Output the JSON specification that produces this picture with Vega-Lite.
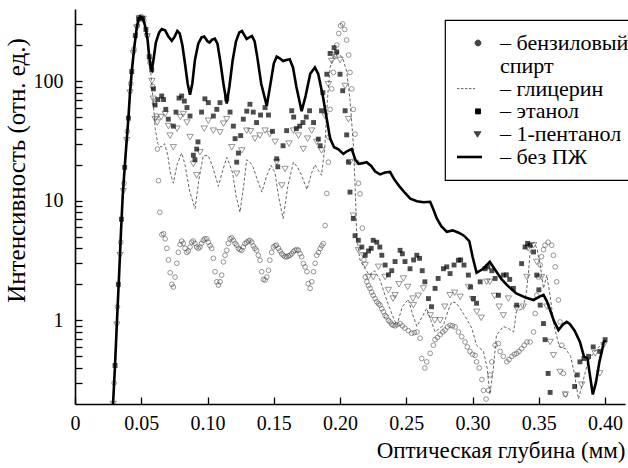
{
 "$schema": "https://vega.github.io/schema/vega-lite/v6.json",
 "width": 550,
 "height": 395,
 "autosize": {"type": "none"},
 "padding": {"left": 75, "top": 9, "right": 3, "bottom": 64},
 "background": "white",
 "config": {"view": {"stroke": null}, "font": "'Liberation Serif', 'Times New Roman', 'DejaVu Serif', serif"},
 "datasets": {
  "bez": [
   {"x":0.0287,"y":0.2},{"x":0.0302,"y":0.42},{"x":0.0317,"y":1.0},{"x":0.0332,"y":2.3},{"x":0.0347,"y":5.5},{"x":0.036,"y":11},{"x":0.0375,"y":19},{"x":0.039,"y":32},{"x":0.0403,"y":49},{"x":0.0415,"y":80},{"x":0.0428,"y":120},{"x":0.0447,"y":190},{"x":0.0466,"y":280},{"x":0.048,"y":330},{"x":0.049,"y":345},{"x":0.0505,"y":340},{"x":0.052,"y":315},{"x":0.0535,"y":270},{"x":0.0548,"y":220},{"x":0.056,"y":160},{"x":0.0572,"y":128},{"x":0.058,"y":124},{"x":0.0592,"y":150},{"x":0.061,"y":210},{"x":0.0635,"y":255},{"x":0.0655,"y":272},{"x":0.068,"y":265},{"x":0.0705,"y":235},{"x":0.073,"y":217},{"x":0.0752,"y":235},{"x":0.0772,"y":262},{"x":0.079,"y":250},{"x":0.081,"y":200},{"x":0.083,"y":140},{"x":0.085,"y":95},{"x":0.0868,"y":77},{"x":0.0885,"y":95},{"x":0.0905,"y":150},{"x":0.093,"y":205},{"x":0.0955,"y":232},{"x":0.0975,"y":236},{"x":0.1,"y":215},{"x":0.1015,"y":210},{"x":0.1035,"y":222},{"x":0.1055,"y":226},{"x":0.1075,"y":205},{"x":0.1095,"y":150},{"x":0.112,"y":95},{"x":0.1145,"y":65},{"x":0.1165,"y":90},{"x":0.119,"y":150},{"x":0.1215,"y":215},{"x":0.124,"y":255},{"x":0.126,"y":262},{"x":0.128,"y":240},{"x":0.1295,"y":225},{"x":0.1315,"y":232},{"x":0.1335,"y":238},{"x":0.1355,"y":215},{"x":0.1375,"y":160},{"x":0.1405,"y":95},{"x":0.1447,"y":62},{"x":0.1475,"y":95},{"x":0.15,"y":140},{"x":0.1522,"y":160},{"x":0.1545,"y":155},{"x":0.157,"y":147},{"x":0.1595,"y":150},{"x":0.162,"y":152},{"x":0.1645,"y":130},{"x":0.167,"y":90},{"x":0.171,"y":56},{"x":0.174,"y":75},{"x":0.1775,"y":115},{"x":0.181,"y":130},{"x":0.1835,"y":115},{"x":0.187,"y":75},{"x":0.19,"y":48},{"x":0.1925,"y":33},{"x":0.1955,"y":28},{"x":0.1985,"y":27},{"x":0.2025,"y":24.6},{"x":0.2055,"y":26},{"x":0.2088,"y":27},{"x":0.2115,"y":22},{"x":0.214,"y":20.3},{"x":0.217,"y":20.6},{"x":0.22,"y":21},{"x":0.2235,"y":19.5},{"x":0.2265,"y":17.5},{"x":0.2302,"y":16.6},{"x":0.234,"y":17.2},{"x":0.2377,"y":17.4},{"x":0.241,"y":15},{"x":0.245,"y":13.1},{"x":0.249,"y":11.6},{"x":0.253,"y":10.4},{"x":0.258,"y":9.9},{"x":0.263,"y":9.7},{"x":0.268,"y":9.8},{"x":0.2705,"y":8.4},{"x":0.273,"y":7.1},{"x":0.2765,"y":6.1},{"x":0.2805,"y":5.5},{"x":0.285,"y":5.65},{"x":0.2895,"y":5.4},{"x":0.2935,"y":5.1},{"x":0.2975,"y":4.6},{"x":0.3,"y":3.4},{"x":0.303,"y":2.5},{"x":0.308,"y":2.7},{"x":0.313,"y":3.08},{"x":0.318,"y":2.55},{"x":0.322,"y":2.2},{"x":0.326,"y":1.97},{"x":0.333,"y":1.68},{"x":0.34,"y":1.55},{"x":0.346,"y":1.48},{"x":0.3505,"y":1.58},{"x":0.3535,"y":1.63},{"x":0.356,"y":1.45},{"x":0.3585,"y":1.22},{"x":0.3615,"y":0.98},{"x":0.3648,"y":0.83},{"x":0.368,"y":0.92},{"x":0.371,"y":0.97},{"x":0.3735,"y":0.93},{"x":0.377,"y":0.82},{"x":0.381,"y":0.66},{"x":0.384,"y":0.5},{"x":0.3867,"y":0.48},{"x":0.3885,"y":0.35},{"x":0.3907,"y":0.24},{"x":0.393,"y":0.3},{"x":0.3957,"y":0.45},{"x":0.3975,"y":0.55},{"x":0.399,"y":0.66},{"x":0.4005,"y":0.68}
  ],
  "glic": [
   {"x":0.0287,"y":0.2},{"x":0.033,"y":2.3},{"x":0.037,"y":15},{"x":0.041,"y":60},{"x":0.045,"y":200},{"x":0.049,"y":340},{"x":0.053,"y":300},{"x":0.0566,"y":140},{"x":0.0585,"y":80},{"x":0.0605,"y":40},{"x":0.0625,"y":30},{"x":0.065,"y":28},{"x":0.0675,"y":30},{"x":0.07,"y":24},{"x":0.072,"y":17},{"x":0.0742,"y":14},{"x":0.077,"y":20},{"x":0.0805,"y":25},{"x":0.083,"y":20},{"x":0.0865,"y":12},{"x":0.0906,"y":8.6},{"x":0.0935,"y":15},{"x":0.0968,"y":23.8},{"x":0.1006,"y":23.8},{"x":0.104,"y":19},{"x":0.1082,"y":13.2},{"x":0.1115,"y":18},{"x":0.1145,"y":23},{"x":0.1157,"y":21.5},{"x":0.119,"y":17},{"x":0.1215,"y":11},{"x":0.1245,"y":8.0},{"x":0.1275,"y":14},{"x":0.1296,"y":22},{"x":0.132,"y":21},{"x":0.1345,"y":19},{"x":0.1375,"y":15},{"x":0.141,"y":11.8},{"x":0.1445,"y":16},{"x":0.148,"y":19.7},{"x":0.151,"y":17},{"x":0.1535,"y":11},{"x":0.157,"y":7.1},{"x":0.1605,"y":13},{"x":0.1648,"y":21},{"x":0.168,"y":19},{"x":0.171,"y":16.3},{"x":0.175,"y":12.4},{"x":0.1785,"y":17},{"x":0.181,"y":20},{"x":0.1835,"y":18},{"x":0.186,"y":16.3},{"x":0.1885,"y":28},{"x":0.1905,"y":70},{"x":0.1925,"y":130},{"x":0.195,"y":160},{"x":0.198,"y":170},{"x":0.2,"y":165},{"x":0.2025,"y":150},{"x":0.205,"y":120},{"x":0.2075,"y":70},{"x":0.21,"y":30},{"x":0.2115,"y":12},{"x":0.2126,"y":5},{"x":0.215,"y":3.2},{"x":0.218,"y":2.8},{"x":0.222,"y":2.4},{"x":0.226,"y":2.6},{"x":0.23,"y":2.2},{"x":0.235,"y":1.5},{"x":0.2395,"y":1.1},{"x":0.2428,"y":0.91},{"x":0.247,"y":1.3},{"x":0.2515,"y":1.5},{"x":0.255,"y":1.1},{"x":0.258,"y":0.89},{"x":0.2615,"y":1.05},{"x":0.2654,"y":1.26},{"x":0.2685,"y":1.0},{"x":0.2717,"y":0.8},{"x":0.278,"y":0.91},{"x":0.2815,"y":1.2},{"x":0.2843,"y":1.43},{"x":0.2875,"y":1.4},{"x":0.2906,"y":1.26},{"x":0.295,"y":1.05},{"x":0.2994,"y":0.86},{"x":0.303,"y":0.62},{"x":0.3082,"y":0.55},{"x":0.311,"y":0.4},{"x":0.313,"y":0.24},{"x":0.3157,"y":0.4},{"x":0.318,"y":0.75},{"x":0.3232,"y":0.89},{"x":0.3275,"y":0.85},{"x":0.331,"y":0.8},{"x":0.333,"y":1.18},{"x":0.338,"y":1.26},{"x":0.3405,"y":1.7},{"x":0.342,"y":2.39},{"x":0.3434,"y":3.73},{"x":0.346,"y":4.5},{"x":0.3485,"y":4.0},{"x":0.351,"y":2.9},{"x":0.3535,"y":1.85},{"x":0.356,"y":2.39},{"x":0.3585,"y":1.6},{"x":0.3615,"y":0.9},{"x":0.3655,"y":0.6},{"x":0.37,"y":0.58},{"x":0.374,"y":0.5},{"x":0.377,"y":0.35},{"x":0.3799,"y":0.22},{"x":0.383,"y":0.3},{"x":0.387,"y":0.45},{"x":0.3905,"y":0.52},{"x":0.394,"y":0.58},{"x":0.399,"y":0.66}
  ],
  "benz": [
   {"x":0.0295,"y":0.3},{"x":0.032,"y":1.3},{"x":0.0345,"y":4.5},{"x":0.037,"y":14},{"x":0.0395,"y":38},{"x":0.042,"y":95},{"x":0.0445,"y":185},{"x":0.047,"y":290},{"x":0.0485,"y":340},{"x":0.05,"y":345},{"x":0.052,"y":320},{"x":0.0545,"y":240},{"x":0.0566,"y":150},{"x":0.0585,"y":90},{"x":0.06,"y":65},{"x":0.0616,"y":51},{"x":0.0622,"y":27},{"x":0.063,"y":14.7},{"x":0.064,"y":8.0},{"x":0.0655,"y":5.2},{"x":0.0668,"y":5.3},{"x":0.068,"y":4.8},{"x":0.0693,"y":4.0},{"x":0.0705,"y":3.2},{"x":0.0718,"y":2.5},{"x":0.073,"y":2.0},{"x":0.0742,"y":1.9},{"x":0.0755,"y":2.3},{"x":0.0768,"y":3.0},{"x":0.078,"y":3.7},{"x":0.0793,"y":4.3},{"x":0.0805,"y":4.6},{"x":0.0818,"y":4.4},{"x":0.083,"y":4.0},{"x":0.0843,"y":3.7},{"x":0.0855,"y":3.8},{"x":0.0868,"y":4.1},{"x":0.088,"y":4.5},{"x":0.0893,"y":4.6},{"x":0.0905,"y":4.4},{"x":0.0918,"y":4.1},{"x":0.093,"y":4.0},{"x":0.0943,"y":4.1},{"x":0.0955,"y":4.4},{"x":0.0968,"y":4.67},{"x":0.098,"y":4.8},{"x":0.0994,"y":4.8},{"x":0.1006,"y":4.5},{"x":0.1019,"y":4.2},{"x":0.1031,"y":4.0},{"x":0.1044,"y":3.3},{"x":0.1057,"y":2.55},{"x":0.107,"y":2.1},{"x":0.1082,"y":1.97},{"x":0.1095,"y":2.1},{"x":0.1107,"y":2.39},{"x":0.112,"y":3.08},{"x":0.1132,"y":3.5},{"x":0.1145,"y":3.85},{"x":0.1157,"y":4.4},{"x":0.117,"y":4.8},{"x":0.1183,"y":4.9},{"x":0.1195,"y":4.67},{"x":0.1208,"y":4.4},{"x":0.122,"y":4.25},{"x":0.1233,"y":4.0},{"x":0.1245,"y":3.9},{"x":0.1258,"y":3.85},{"x":0.127,"y":4.1},{"x":0.1283,"y":4.38},{"x":0.1296,"y":4.5},{"x":0.1308,"y":4.6},{"x":0.132,"y":4.67},{"x":0.1333,"y":4.5},{"x":0.1345,"y":4.2},{"x":0.1358,"y":4.0},{"x":0.137,"y":3.85},{"x":0.1383,"y":3.5},{"x":0.1396,"y":3.18},{"x":0.1409,"y":2.55},{"x":0.1421,"y":2.2},{"x":0.1434,"y":2.17},{"x":0.1447,"y":2.3},{"x":0.146,"y":2.62},{"x":0.147,"y":3.18},{"x":0.1484,"y":3.7},{"x":0.1497,"y":4.1},{"x":0.151,"y":4.2},{"x":0.152,"y":4.25},{"x":0.1535,"y":4.0},{"x":0.1547,"y":3.8},{"x":0.156,"y":3.6},{"x":0.1572,"y":3.5},{"x":0.1585,"y":3.4},{"x":0.1597,"y":3.4},{"x":0.161,"y":3.45},{"x":0.1622,"y":3.5},{"x":0.1635,"y":3.6},{"x":0.1648,"y":3.75},{"x":0.166,"y":3.85},{"x":0.1673,"y":3.9},{"x":0.1686,"y":3.85},{"x":0.1698,"y":3.6},{"x":0.171,"y":3.4},{"x":0.1723,"y":2.98},{"x":0.1736,"y":2.8},{"x":0.175,"y":2.55},{"x":0.176,"y":2.03},{"x":0.1774,"y":1.85},{"x":0.1787,"y":2.1},{"x":0.18,"y":2.55},{"x":0.1812,"y":3.0},{"x":0.1824,"y":3.5},{"x":0.1837,"y":3.7},{"x":0.185,"y":3.98},{"x":0.1862,"y":4.2},{"x":0.1874,"y":4.38},{"x":0.1887,"y":6.2},{"x":0.19,"y":11.5},{"x":0.1912,"y":21},{"x":0.1915,"y":34},{"x":0.1925,"y":58},{"x":0.1937,"y":86},{"x":0.195,"y":118},{"x":0.1962,"y":160},{"x":0.1975,"y":200},{"x":0.199,"y":250},{"x":0.2005,"y":290},{"x":0.202,"y":300},{"x":0.2035,"y":270},{"x":0.205,"y":220},{"x":0.2065,"y":165},{"x":0.2075,"y":118},{"x":0.2088,"y":86},{"x":0.21,"y":58},{"x":0.2113,"y":36},{"x":0.2126,"y":21},{"x":0.2139,"y":14},{"x":0.2151,"y":11.4},{"x":0.2168,"y":5.9},{"x":0.218,"y":3.2},{"x":0.219,"y":2.3},{"x":0.2202,"y":2.1},{"x":0.2214,"y":1.95},{"x":0.2226,"y":1.85},{"x":0.2238,"y":1.72},{"x":0.225,"y":1.62},{"x":0.2264,"y":1.52},{"x":0.2277,"y":1.43},{"x":0.229,"y":1.38},{"x":0.2302,"y":1.34},{"x":0.2315,"y":1.25},{"x":0.2327,"y":1.18},{"x":0.234,"y":1.1},{"x":0.235,"y":1.07},{"x":0.2365,"y":1.0},{"x":0.2377,"y":0.97},{"x":0.239,"y":0.93},{"x":0.24,"y":0.91},{"x":0.2415,"y":0.9},{"x":0.243,"y":0.92},{"x":0.2453,"y":0.94},{"x":0.247,"y":0.9},{"x":0.249,"y":0.86},{"x":0.2515,"y":0.82},{"x":0.254,"y":0.78},{"x":0.256,"y":0.79},{"x":0.258,"y":0.8},{"x":0.2604,"y":0.71},{"x":0.2616,"y":0.48},{"x":0.264,"y":0.4},{"x":0.2654,"y":0.45},{"x":0.268,"y":0.53},{"x":0.2704,"y":0.62},{"x":0.2717,"y":0.69},{"x":0.2735,"y":0.72},{"x":0.2755,"y":0.76},{"x":0.2775,"y":0.8},{"x":0.2792,"y":0.83},{"x":0.281,"y":0.88},{"x":0.283,"y":0.91},{"x":0.2848,"y":0.9},{"x":0.2868,"y":0.88},{"x":0.2893,"y":0.8},{"x":0.2918,"y":0.73},{"x":0.2943,"y":0.66},{"x":0.296,"y":0.6},{"x":0.298,"y":0.55},{"x":0.3,"y":0.52},{"x":0.3019,"y":0.51},{"x":0.303,"y":0.45},{"x":0.305,"y":0.4},{"x":0.307,"y":0.32},{"x":0.3082,"y":0.26},{"x":0.3102,"y":0.22},{"x":0.312,"y":0.26},{"x":0.3132,"y":0.35},{"x":0.3145,"y":0.45},{"x":0.317,"y":0.62},{"x":0.3195,"y":0.64},{"x":0.3208,"y":0.55},{"x":0.3232,"y":0.5},{"x":0.3258,"y":0.45},{"x":0.3275,"y":0.47},{"x":0.3296,"y":0.5},{"x":0.3315,"y":0.52},{"x":0.3333,"y":0.53},{"x":0.335,"y":0.55},{"x":0.337,"y":0.58},{"x":0.339,"y":0.62},{"x":0.341,"y":0.66},{"x":0.3434,"y":0.66},{"x":0.346,"y":0.8},{"x":0.3472,"y":1.14},{"x":0.3484,"y":1.62},{"x":0.3497,"y":2.3},{"x":0.351,"y":2.9},{"x":0.352,"y":3.4},{"x":0.3535,"y":3.9},{"x":0.3547,"y":4.25},{"x":0.357,"y":4.5},{"x":0.3597,"y":4.25},{"x":0.361,"y":3.5},{"x":0.3623,"y":2.8},{"x":0.3635,"y":2.1},{"x":0.3648,"y":1.48},{"x":0.366,"y":0.97},{"x":0.3673,"y":0.62},{"x":0.3685,"y":0.36},{"x":0.37,"y":0.24}
  ],
  "etan": [
   {"x":0.0302,"y":0.42},{"x":0.0327,"y":2},{"x":0.035,"y":7},{"x":0.0375,"y":19},{"x":0.0403,"y":49},{"x":0.0428,"y":120},{"x":0.0455,"y":240},{"x":0.048,"y":330},{"x":0.051,"y":335},{"x":0.0535,"y":270},{"x":0.056,"y":160},{"x":0.0579,"y":124},{"x":0.0592,"y":86},{"x":0.0604,"y":63},{"x":0.0625,"y":70},{"x":0.0654,"y":75},{"x":0.0668,"y":70},{"x":0.0685,"y":58},{"x":0.0704,"y":48},{"x":0.0742,"y":42},{"x":0.0762,"y":55},{"x":0.0785,"y":72},{"x":0.0805,"y":75},{"x":0.0825,"y":68},{"x":0.0845,"y":60},{"x":0.0868,"y":51},{"x":0.0893,"y":24},{"x":0.0905,"y":22},{"x":0.0918,"y":27},{"x":0.0928,"y":31},{"x":0.0955,"y":55},{"x":0.098,"y":71},{"x":0.1006,"y":66},{"x":0.1044,"y":51},{"x":0.107,"y":58},{"x":0.1094,"y":66},{"x":0.1145,"y":71},{"x":0.117,"y":55},{"x":0.1195,"y":42},{"x":0.1208,"y":33},{"x":0.122,"y":21},{"x":0.1233,"y":25},{"x":0.125,"y":35},{"x":0.127,"y":48},{"x":0.1296,"y":56},{"x":0.132,"y":64},{"x":0.1345,"y":55},{"x":0.137,"y":45},{"x":0.14,"y":52},{"x":0.1434,"y":60},{"x":0.146,"y":52},{"x":0.149,"y":38},{"x":0.1522,"y":22.4},{"x":0.153,"y":19.2},{"x":0.157,"y":28.8},{"x":0.1597,"y":38.5},{"x":0.1635,"y":56.5},{"x":0.165,"y":50},{"x":0.167,"y":40},{"x":0.1695,"y":42},{"x":0.172,"y":45},{"x":0.1745,"y":50},{"x":0.177,"y":56.5},{"x":0.18,"y":45},{"x":0.1836,"y":32.7},{"x":0.185,"y":28.8},{"x":0.186,"y":56.5},{"x":0.187,"y":80},{"x":0.19,"y":114},{"x":0.1925,"y":170},{"x":0.1955,"y":190},{"x":0.1975,"y":175},{"x":0.2,"y":114},{"x":0.202,"y":83},{"x":0.2038,"y":56.5},{"x":0.205,"y":35.5},{"x":0.2063,"y":21},{"x":0.2075,"y":11.8},{"x":0.21,"y":7.1},{"x":0.2113,"y":5.1},{"x":0.2138,"y":4.67},{"x":0.2164,"y":4.1},{"x":0.219,"y":3.5},{"x":0.2215,"y":3.8},{"x":0.2235,"y":4.0},{"x":0.225,"y":4.67},{"x":0.2277,"y":4.5},{"x":0.23,"y":4.1},{"x":0.2315,"y":3.5},{"x":0.234,"y":2.9},{"x":0.2365,"y":2.4},{"x":0.239,"y":2.6},{"x":0.2415,"y":3.1},{"x":0.2453,"y":3.85},{"x":0.247,"y":3.6},{"x":0.249,"y":3.1},{"x":0.2528,"y":2.7},{"x":0.2555,"y":3.2},{"x":0.2579,"y":3.5},{"x":0.26,"y":3.3},{"x":0.262,"y":2.6},{"x":0.264,"y":2.1},{"x":0.2667,"y":1.52},{"x":0.269,"y":1.3},{"x":0.2717,"y":1.85},{"x":0.274,"y":2.24},{"x":0.278,"y":2.7},{"x":0.2805,"y":2.8},{"x":0.283,"y":2.46},{"x":0.286,"y":2.9},{"x":0.2893,"y":3.18},{"x":0.291,"y":3.2},{"x":0.2935,"y":2.9},{"x":0.2968,"y":2.39},{"x":0.2985,"y":1.9},{"x":0.3006,"y":1.52},{"x":0.303,"y":1.39},{"x":0.3057,"y":2.1},{"x":0.3094,"y":2.7},{"x":0.3115,"y":2.8},{"x":0.3145,"y":2.6},{"x":0.317,"y":2.24},{"x":0.3195,"y":1.62},{"x":0.3232,"y":2.39},{"x":0.3255,"y":2.4},{"x":0.328,"y":2.2},{"x":0.3308,"y":1.85},{"x":0.3333,"y":1.34},{"x":0.337,"y":2.98},{"x":0.3396,"y":4.1},{"x":0.3415,"y":4.4},{"x":0.3434,"y":4.25},{"x":0.346,"y":3.73},{"x":0.3484,"y":2.39},{"x":0.35,"y":1.8},{"x":0.351,"y":1.34},{"x":0.3535,"y":0.94},{"x":0.3547,"y":0.69},{"x":0.357,"y":0.36},{"x":0.3585,"y":0.25},{"x":0.377,"y":0.28},{"x":0.379,"y":0.35},{"x":0.381,"y":0.45},{"x":0.384,"y":0.48},{"x":0.3875,"y":0.5},{"x":0.391,"y":0.6},{"x":0.396,"y":0.55},{"x":0.4,"y":0.69}
  ],
  "pent": [
   {"x":0.0289,"y":0.2},{"x":0.0315,"y":0.92},{"x":0.034,"y":3.5},{"x":0.0365,"y":12},{"x":0.039,"y":32},{"x":0.0415,"y":80},{"x":0.044,"y":170},{"x":0.0465,"y":280},{"x":0.0485,"y":335},{"x":0.0515,"y":330},{"x":0.0545,"y":236},{"x":0.057,"y":135},{"x":0.058,"y":100},{"x":0.059,"y":71},{"x":0.0604,"y":48},{"x":0.062,"y":45},{"x":0.065,"y":50},{"x":0.068,"y":53},{"x":0.0705,"y":42},{"x":0.0717,"y":35},{"x":0.0742,"y":28},{"x":0.077,"y":40},{"x":0.0795,"y":50},{"x":0.0817,"y":53},{"x":0.0845,"y":45},{"x":0.0868,"y":34},{"x":0.0893,"y":20.3},{"x":0.0918,"y":16.3},{"x":0.0943,"y":25.4},{"x":0.0975,"y":40},{"x":0.1006,"y":46.6},{"x":0.1044,"y":38.5},{"x":0.1094,"y":37.3},{"x":0.112,"y":44},{"x":0.1145,"y":48},{"x":0.1183,"y":28},{"x":0.122,"y":16.8},{"x":0.1258,"y":26.3},{"x":0.1296,"y":38.5},{"x":0.1325,"y":38},{"x":0.1358,"y":33},{"x":0.1395,"y":35},{"x":0.1434,"y":38.5},{"x":0.147,"y":36},{"x":0.151,"y":31},{"x":0.1522,"y":21},{"x":0.156,"y":13.4},{"x":0.1585,"y":18.4},{"x":0.1615,"y":30},{"x":0.1648,"y":38.5},{"x":0.1686,"y":35},{"x":0.1723,"y":27},{"x":0.1755,"y":33},{"x":0.1786,"y":38.5},{"x":0.1824,"y":31},{"x":0.186,"y":26.3},{"x":0.1887,"y":51},{"x":0.1912,"y":94},{"x":0.1937,"y":147},{"x":0.1965,"y":165},{"x":0.2,"y":150},{"x":0.2038,"y":91},{"x":0.2063,"y":48},{"x":0.2075,"y":21},{"x":0.21,"y":7.5},{"x":0.2138,"y":3.85},{"x":0.2176,"y":3.5},{"x":0.219,"y":2.9},{"x":0.2214,"y":2.3},{"x":0.225,"y":2.3},{"x":0.229,"y":2.8},{"x":0.234,"y":2.3},{"x":0.2365,"y":1.79},{"x":0.24,"y":1.52},{"x":0.2415,"y":1.62},{"x":0.2445,"y":2.0},{"x":0.2478,"y":2.24},{"x":0.251,"y":1.9},{"x":0.255,"y":1.52},{"x":0.2553,"y":1.34},{"x":0.259,"y":1.6},{"x":0.2629,"y":1.85},{"x":0.268,"y":1.1},{"x":0.2715,"y":1.0},{"x":0.2755,"y":1.0},{"x":0.279,"y":1.3},{"x":0.283,"y":1.62},{"x":0.2865,"y":1.7},{"x":0.2906,"y":1.57},{"x":0.297,"y":1.9},{"x":0.3,"y":1.5},{"x":0.3032,"y":1.18},{"x":0.3065,"y":1.05},{"x":0.3106,"y":2.1},{"x":0.313,"y":2.1},{"x":0.3165,"y":1.6},{"x":0.32,"y":1.3},{"x":0.3232,"y":1.1},{"x":0.327,"y":1.52},{"x":0.3333,"y":1.26},{"x":0.3383,"y":1.3},{"x":0.341,"y":2.3},{"x":0.342,"y":4.0},{"x":0.346,"y":4.25},{"x":0.3484,"y":3.08},{"x":0.352,"y":2.3},{"x":0.356,"y":1.3},{"x":0.3585,"y":0.66},{"x":0.361,"y":0.51},{"x":0.366,"y":0.37},{"x":0.37,"y":0.24},{"x":0.3823,"y":0.29},{"x":0.3925,"y":0.53},{"x":0.396,"y":0.36},{"x":0.399,"y":0.62}
  ]
 },
 "encoding": {
  "x": {
   "field": "x", "type": "quantitative",
   "scale": {"domain": [0, 0.415], "nice": false, "zero": false},
   "axis": {
    "values": [0, 0.05, 0.1, 0.15, 0.2, 0.25, 0.3, 0.35, 0.4],
    "labelExpr": "datum.value == 0 ? '0' : format(datum.value, '.2f')",
    "title": "Оптическая глубина (мм)",
    "titleAnchor": "end",
    "grid": false,
    "tickSize": -7, "tickColor": "black", "tickWidth": 1.3,
    "domainColor": "black", "domainWidth": 1.6,
    "labelFont": "'Liberation Serif', 'Times New Roman', 'DejaVu Serif', serif", "labelFontSize": 20, "labelColor": "black", "labelPadding": 16,
    "labelFlush": false, "labelOverlap": false,
    "titleFont": "'Liberation Serif', 'Times New Roman', 'DejaVu Serif', serif", "titleFontSize": 23, "titleFontWeight": "normal", "titleColor": "black", "titlePadding": 6
   }
  },
  "y": {
   "field": "y", "type": "quantitative",
   "scale": {"type": "log", "domain": [0.2, 400], "nice": false},
   "axis": {
    "values": [0.3, 0.4, 0.5, 0.6, 0.7, 0.8, 0.9, 1, 2, 3, 4, 5, 6, 7, 8, 9, 10, 20, 30, 40, 50, 60, 70, 80, 90, 100, 200, 300],
    "labelExpr": "(datum.value == 1 || datum.value == 10 || datum.value == 100) ? format(datum.value, 'd') : ''",
    "title": "Интенсивность (отн. ед.)",
    "grid": false,
    "tickSize": -7, "tickColor": "black", "tickWidth": 1.3,
    "domainColor": "black", "domainWidth": 1.6,
    "labelFont": "'Liberation Serif', 'Times New Roman', 'DejaVu Serif', serif", "labelFontSize": 20, "labelColor": "black", "labelPadding": 19,
    "labelOverlap": false, "labelFlush": false,
    "titleFont": "'Liberation Serif', 'Times New Roman', 'DejaVu Serif', serif", "titleFontSize": 25, "titleFontWeight": "normal", "titleColor": "black", "titlePadding": 4,
    "titleY": 161
   }
  }
 },
 "layer": [
  {
   "data": {"name": "glic"},
   "mark": {"type": "line", "strokeDash": [3, 2], "strokeWidth": 0.9, "clip": true},
   "encoding": {
    "color": {
     "datum": "глицерин",
     "scale": {
      "domain": ["бензиловый", "спирт", "глицерин", "этанол", "1-пентанол", "без ПЖ"],
      "range": ["#444444", "#ffffff", "#555555", "#000000", "#444444", "#000000"]
     },
     "legend": {
      "title": null,
      "orient": "none",
      "legendX": 370,
      "legendY": 11,
      "padding": 12,
      "strokeColor": "black",
      "fillColor": "white",
      "symbolSize": 400,
      "rowPadding": 0.8,
      "labelOffset": 21,
      "labelFont": "'Liberation Serif', 'Times New Roman', 'DejaVu Serif', serif",
      "labelFontSize": 22,
      "labelColor": "black",
      "labelLimit": 300,
      "labelExpr": "datum.value == 'спирт' ? '\u2002\u00a0спирт' : '– ' + datum.value",
      "encode": {
       "legend": {"update": {"strokeWidth": {"value": 1.2}}},
       "symbols": {
        "update": {
         "shape": {"signal": "datum.value === 'без ПЖ' ? 'M-1.1,0H1.4' : datum.value === 'глицерин' ? 'M-1.1,0H0.7' : datum.value === 'этанол' ? 'M0.75,-0.25H1.25V0.25H0.75Z' : datum.value === '1-пентанол' ? 'M0.6,-0.25H1.3L0.95,0.3Z' : datum.value === 'бензиловый' ? 'M1.3,0A0.3,0.3 0 1,1 0.7,0A0.3,0.3 0 1,1 1.3,0Z' : 'M0,0'"},
         "size": {"value": 400},
         "fill": {"signal": "(datum.value === 'этанол' || datum.value === '1-пентанол') ? 'black' : 'white'"},
         "fillOpacity": {"signal": "(datum.value === 'этанол' || datum.value === '1-пентанол' || datum.value === 'бензиловый') ? 1 : 0"},
         "stroke": {"signal": "datum.value === 'спирт' ? 'transparent' : 'black'"},
         "strokeWidth": {"signal": "datum.value === 'без ПЖ' ? 2.6 : 0.9"},
         "strokeDash": {"signal": "datum.value === 'глицерин' ? [2.5, 1.5] : []"},
         "opacity": {"value": 1}
        }
       }
      }
     }
    }
   }
  },
  {
   "data": {"name": "benz"},
   "mark": {"type": "point", "shape": "circle", "filled": false, "size": 22, "strokeWidth": 0.8, "clip": true},
   "encoding": {"color": {"datum": "бензиловый"}}
  },
  {
   "data": {"name": "pent"},
   "mark": {"type": "point", "shape": "triangle-down", "filled": false, "size": 40, "strokeWidth": 0.8, "clip": true},
   "encoding": {"color": {"datum": "1-пентанол"}}
  },
  {
   "data": {"name": "etan"},
   "mark": {"type": "point", "shape": "square", "filled": true, "size": 24, "clip": true},
   "encoding": {"color": {"datum": "этанол"}}
  },
  {
   "data": {"name": "bez"},
   "mark": {"type": "line", "strokeWidth": 2.6, "clip": true},
   "encoding": {"color": {"datum": "без ПЖ"}}
  }
 ]
}
